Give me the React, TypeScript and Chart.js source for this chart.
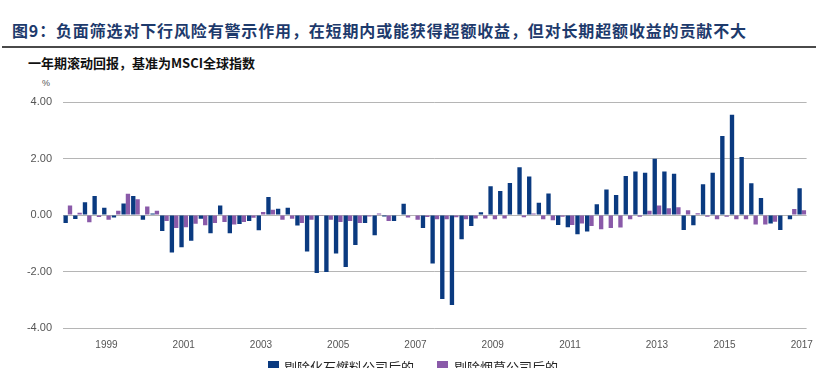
import React, { useEffect, useRef } from "react";
import { Chart, registerables } from "chart.js";

Chart.register(...registerables);

// Quarterly categories, 1998Q1 .. 2017Q1
const quarters: string[] = [
  "1998Q1", "1998Q2", "1998Q3", "1998Q4",
  "1999Q1", "1999Q2", "1999Q3", "1999Q4",
  "2000Q1", "2000Q2", "2000Q3", "2000Q4",
  "2001Q1", "2001Q2", "2001Q3", "2001Q4",
  "2002Q1", "2002Q2", "2002Q3", "2002Q4",
  "2003Q1", "2003Q2", "2003Q3", "2003Q4",
  "2004Q1", "2004Q2", "2004Q3", "2004Q4",
  "2005Q1", "2005Q2", "2005Q3", "2005Q4",
  "2006Q1", "2006Q2", "2006Q3", "2006Q4",
  "2007Q1", "2007Q2", "2007Q3", "2007Q4",
  "2008Q1", "2008Q2", "2008Q3", "2008Q4",
  "2009Q1", "2009Q2", "2009Q3", "2009Q4",
  "2010Q1", "2010Q2", "2010Q3", "2010Q4",
  "2011Q1", "2011Q2", "2011Q3", "2011Q4",
  "2012Q1", "2012Q2", "2012Q3", "2012Q4",
  "2013Q1", "2013Q2", "2013Q3", "2013Q4",
  "2014Q1", "2014Q2", "2014Q3", "2014Q4",
  "2015Q1", "2015Q2", "2015Q3", "2015Q4",
  "2016Q1", "2016Q2", "2016Q3", "2016Q4",
  "2017Q1",
];

// Categories that carry an axis label, and the labels shown there
const xTickCategories: string[] = [
  "1999Q1", "2001Q1", "2003Q1", "2005Q1", "2007Q1",
  "2009Q1", "2011Q1", "2013Q2", "2015Q1", "2017Q1",
];
const xTickLabels: string[] = [
  "1999", "2001", "2003", "2005", "2007",
  "2009", "2011", "2013", "2015", "2017",
];

// 剔除化石燃料公司后的 (%)
const exFossilFuel: number[] = [
  -0.28, -0.14, 0.45, 0.67, 0.26, -0.09, 0.41, 0.67, -0.17, 0.05,
  -0.57, -1.33, -1.14, -0.91, -0.13, -0.65, 0.34, -0.65, -0.32, -0.21,
  -0.54, 0.64, 0.22, 0.26, -0.37, -1.29, -2.05, -2.02, -1.36, -1.84,
  -1.06, -0.28, -0.72, -0.05, -0.21, 0.40, 0.02, -0.46, -1.72, -2.97,
  -3.19, -0.86, -0.39, 0.10, 1.02, 0.85, 1.13, 1.69, 1.36, 0.43,
  0.76, -0.35, -0.43, -0.68, -0.58, 0.38, 0.90, 0.71, 1.38, 1.54,
  1.50, 1.99, 1.54, 1.46, -0.53, -0.36, 1.09, 1.50, 2.80, 3.55,
  2.05, 1.12, 0.60, -0.30, -0.53, -0.15, 0.95,
];

// 剔除烟草公司后的 (%)
const exTobacco: number[] = [
  0.34, 0.08, -0.26, -0.07, -0.17, 0.15, 0.75, 0.56, 0.30, 0.15,
  -0.21, -0.46, -0.43, -0.31, -0.36, -0.28, -0.25, -0.34, -0.25, -0.10,
  0.11, 0.19, -0.17, -0.13, -0.28, -0.17, -0.03, -0.17, -0.25, -0.21,
  -0.28, -0.05, 0.05, -0.21, 0.02, -0.09, -0.17, -0.07, -0.15, -0.15,
  -0.08, -0.15, -0.12, -0.12, -0.15, -0.12, 0.02, -0.08, 0.05, -0.15,
  -0.19, -0.06, -0.35, -0.30, -0.39, -0.50, -0.46, -0.44, -0.15, -0.06,
  0.15, 0.34, 0.24, 0.27, 0.17, 0.06, -0.06, -0.15, -0.06, -0.15,
  -0.15, -0.34, -0.34, -0.24, 0.0, 0.21, 0.17,
];

const seriesNames: string[] = ["剔除化石燃料公司后的", "剔除烟草公司后的"];
const yMin = -4;
const yMax = 4;
const yStep = 2;

const BLUE = "#0a3a80";
const PURPLE = "#8a5aa9";
const AXIS_TEXT = "#555555";

export default function App() {
  const canvasRef = useRef<HTMLCanvasElement>(null);

  useEffect(() => {
    const canvas = canvasRef.current;
    if (!canvas) return;
    const chart = new Chart(canvas, {
      type: "bar",
      data: {
        labels: quarters,
        datasets: [
          {
            label: seriesNames[0],
            data: exFossilFuel,
            backgroundColor: BLUE,
            barPercentage: 1,
            categoryPercentage: 0.9,
          },
          {
            label: seriesNames[1],
            data: exTobacco,
            backgroundColor: PURPLE,
            barPercentage: 1,
            categoryPercentage: 0.9,
          },
        ],
      },
      options: {
        responsive: false,
        animation: false,
        layout: { padding: { left: 0, right: 16, top: 102, bottom: 0 } },
        plugins: {
          legend: { display: false },
          tooltip: { enabled: false },
          title: { display: false },
        },
        scales: {
          x: {
            grid: { display: false, drawTicks: false },
            border: { display: false },
            ticks: {
              autoSkip: false,
              maxRotation: 0,
              minRotation: 0,
              padding: 11,
              color: AXIS_TEXT,
              font: { family: "'Liberation Sans', Arial, sans-serif", size: 10 },
              callback: (_v: any, i: number) => {
                const k = xTickCategories.indexOf(quarters[i]);
                return k >= 0 ? xTickLabels[k] : "";
              },
            },
            afterFit: (scale: any) => {
              scale.height = 40;
            },
          },
          y: {
            min: yMin,
            max: yMax,
            grid: { color: "#b5b5b5", lineWidth: 1, drawTicks: false },
            border: { display: false },
            ticks: {
              stepSize: yStep,
              padding: 11,
              color: AXIS_TEXT,
              font: { family: "'Liberation Sans', Arial, sans-serif", size: 11 },
              callback: (v: any) => Number(v).toFixed(2),
            },
            afterFit: (scale: any) => {
              scale.width = 63;
            },
          },
        },
      },
    });
    return () => chart.destroy();
  }, []);

  const cjk = "'Noto Sans CJK SC', 'Noto Sans', sans-serif";

  return (
    <div
      style={{
        position: "fixed",
        left: 0,
        top: 0,
        width: 824,
        height: 368,
        background: "#ffffff",
        overflow: "hidden",
      }}
    >
      <div
        style={{
          position: "absolute",
          left: 12,
          top: 19,
          fontFamily: cjk,
          fontWeight: 700,
          fontSize: 16,
          lineHeight: "22px",
          letterSpacing: "0.85px",
          color: "#1d3a6c",
          whiteSpace: "nowrap",
        }}
      >
        图9：负面筛选对下行风险有警示作用，在短期内或能获得超额收益，但对长期超额收益的贡献不大
      </div>
      <div
        style={{
          position: "absolute",
          left: 2,
          top: 46,
          width: 814,
          height: 2,
          background: "#4a4a4a",
        }}
      />
      <div
        style={{
          position: "absolute",
          left: 28,
          top: 54,
          fontFamily: cjk,
          fontWeight: 700,
          fontSize: 13,
          lineHeight: "17px",
          color: "#111111",
          whiteSpace: "nowrap",
        }}
      >
        一年期滚动回报，基准为MSCI全球指数
      </div>
      <div
        style={{
          position: "absolute",
          left: 42,
          top: 77,
          fontFamily: "'Liberation Sans', Arial, sans-serif",
          fontSize: 9,
          lineHeight: "12px",
          color: AXIS_TEXT,
        }}
      >
        %
      </div>
      <canvas
        ref={canvasRef}
        width={824}
        height={368}
        style={{ position: "absolute", left: 0, top: 0, width: 824, height: 368 }}
      />
      <div
        style={{
          position: "absolute",
          left: 268,
          top: 361,
          width: 11,
          height: 11,
          background: BLUE,
        }}
      />
      <div
        style={{
          position: "absolute",
          left: 284,
          top: 358,
          fontFamily: cjk,
          fontSize: 13,
          lineHeight: "17px",
          color: "#222222",
          whiteSpace: "nowrap",
        }}
      >
        {seriesNames[0]}
      </div>
      <div
        style={{
          position: "absolute",
          left: 437,
          top: 361,
          width: 11,
          height: 11,
          background: PURPLE,
        }}
      />
      <div
        style={{
          position: "absolute",
          left: 454,
          top: 358,
          fontFamily: cjk,
          fontSize: 13,
          lineHeight: "17px",
          color: "#222222",
          whiteSpace: "nowrap",
        }}
      >
        {seriesNames[1]}
      </div>
    </div>
  );
}
